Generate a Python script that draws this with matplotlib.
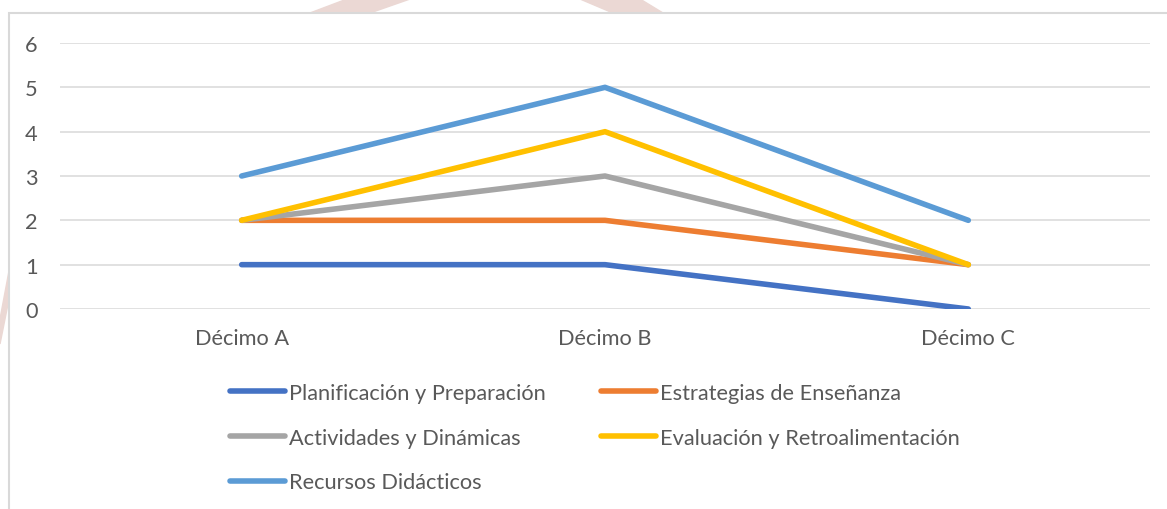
import matplotlib
matplotlib.use('Agg')
import matplotlib.pyplot as plt
from matplotlib.patches import Rectangle, Polygon

categories = ['Décimo A', 'Décimo B', 'Décimo C']
planificacion = [1, 1, 0]
estrategias = [2, 2, 1]
actividades = [2, 3, 1]
evaluacion = [2, 4, 1]
recursos = [3, 5, 2]

series = [
    ('Planificación y Preparación', planificacion, '#4472C4'),
    ('Estrategias de Enseñanza', estrategias, '#ED7D31'),
    ('Actividades y Dinámicas', actividades, '#A5A5A5'),
    ('Evaluación y Retroalimentación', evaluacion, '#FFC000'),
    ('Recursos Didácticos', recursos, '#5B9BD5'),
]

plt.rcParams['font.family'] = ['Lato', 'DejaVu Sans']
W, H = 1167, 510
fig = plt.figure(figsize=(W / 100, H / 100), dpi=100)

# faint watermark bits peeking out around the chart
wm = '#EBD8D4'
fig.patches.append(Polygon([(310 / W, 1 - 14 / H), (370 / W, 1 - 14 / H), (410 / W, 1.0), (347 / W, 1.0)],
                           closed=True, transform=fig.transFigure, color=wm, zorder=0))
fig.patches.append(Polygon([(580 / W, 1.0), (640 / W, 1.0), (663 / W, 1 - 14 / H), (613 / W, 1 - 14 / H)],
                           closed=True, transform=fig.transFigure, color=wm, zorder=0))
fig.patches.append(Polygon([(0, 1 - 320 / H), (9 / W, 1 - 272 / H), (9 / W, 1 - 300 / H), (0, 1 - 345 / H)],
                           closed=True, transform=fig.transFigure, color=wm, zorder=0))
# chart frame (cut off at right and bottom)
fig.patches.append(Rectangle((9 / W, -0.1), 1.2, 1.1 - 14 / H, transform=fig.transFigure,
                             facecolor='white', edgecolor='#D9D9D9', lw=1.5, zorder=1))

ax = fig.add_axes([60 / W, 1 - 310 / H, 1090 / W, 266 / H])
ax.set_zorder(3)
ax.set_facecolor('none')
x = range(len(categories))
lines = {}
for name, vals, col in series:
    ln, = ax.plot(x, vals, color=col, lw=4, solid_capstyle='round', solid_joinstyle='round', label=name)
    lines[name] = ln

ax.set_xlim(-0.5, 2.5)
ax.set_ylim(0, 6)
ax.set_yticks(range(0, 7))
ax.set_xticks(list(x))
ax.set_xticklabels(categories)
ax.grid(axis='y', color='#D9D9D9', lw=1.1)
ax.set_axisbelow(True)
for s in ax.spines.values():
    s.set_visible(False)
fs = 15.7
ax.tick_params(length=0, labelsize=fs, labelcolor='#595959')
ax.tick_params(axis='y', pad=16)
ax.tick_params(axis='x', pad=14)

order = ['Planificación y Preparación', 'Actividades y Dinámicas', 'Recursos Didácticos',
         'Estrategias de Enseñanza', 'Evaluación y Retroalimentación']
fpx = fs * 100 / 72
leg = fig.legend([lines[n] for n in order], order, ncol=2, frameon=False,
                 loc='upper left', bbox_to_anchor=(230 / W, 1 - 384 / H),
                 fontsize=fs, labelcolor='#595959', borderpad=0, borderaxespad=0,
                 handlelength=55 / fpx, handletextpad=4 / fpx, labelspacing=(46.5 - fpx) / fpx,
                 columnspacing=55 / fpx)
leg.set_zorder(3)

fig.savefig('out.png', dpi=100)
